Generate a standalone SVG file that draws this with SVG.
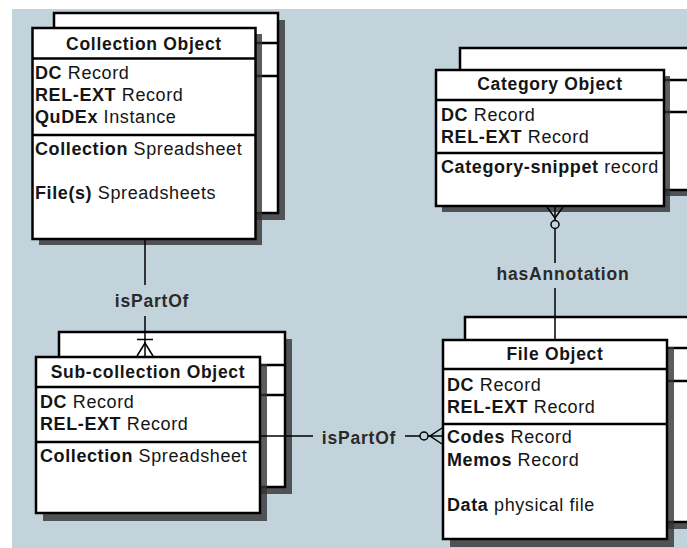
<svg xmlns="http://www.w3.org/2000/svg" width="687" height="548" viewBox="0 0 687 548">
<style>
.bg{fill:#c3d3dc}
.shd{fill:#333;fill-opacity:0.8}
.box{fill:#fff;stroke:#000;stroke-width:2.5}
.div{stroke:#000;stroke-width:2.5}
.ln{stroke:#000;stroke-width:1.5;fill:none}
text{font-family:"Liberation Sans",Arial,Helvetica,sans-serif;font-size:18px;fill:#151515;letter-spacing:0.6px}
.t{font-weight:bold;text-anchor:middle;font-size:17.5px;letter-spacing:0.7px}
.b{font-weight:bold}
.lbl{font-weight:bold;text-anchor:middle;fill:#2a2a2a;font-size:17.5px;letter-spacing:0.8px}
</style>
<rect x="0" y="0" width="687" height="548" fill="#fff"/>
<rect class="bg" x="12" y="9" width="675" height="539"/>

<g id="collection-object">
  <rect class="shd" x="61" y="20" width="224" height="200"/>
  <rect class="box" x="54" y="13" width="224" height="200"/>
  <line class="div" x1="54" y1="43" x2="278" y2="43"/>
  <line class="div" x1="54" y1="76" x2="278" y2="76"/>
  <rect class="shd" x="39" y="34" width="223" height="211"/>
  <rect class="box" x="32.5" y="28" width="223" height="211"/>
  <line class="div" x1="32.5" y1="58.5" x2="255.5" y2="58.5"/>
  <line class="div" x1="32.5" y1="135" x2="255.5" y2="135"/>
  <text class="t" x="144" y="50">Collection Object</text>
  <text x="35" y="79"><tspan class="b">DC</tspan> Record</text>
  <text x="35" y="101"><tspan class="b">REL-EXT</tspan> Record</text>
  <text x="35" y="123"><tspan class="b">QuDEx</tspan> Instance</text>
  <text x="35" y="155"><tspan class="b">Collection</tspan> Spreadsheet</text>
  <text x="35" y="199"><tspan class="b">File(s)</tspan> Spreadsheets</text>
</g>

<g id="subcollection-object">
  <rect class="shd" x="66" y="339" width="226" height="155"/>
  <rect class="box" x="59" y="332" width="226" height="155"/>
  <line class="div" x1="59" y1="365" x2="285" y2="365"/>
  <line class="div" x1="59" y1="395" x2="285" y2="395"/>
  <rect class="shd" x="43" y="364" width="224" height="157"/>
  <rect class="box" x="36" y="357" width="224" height="156"/>
  <line class="div" x1="36" y1="387" x2="260" y2="387"/>
  <line class="div" x1="36" y1="442" x2="260" y2="442"/>
  <text class="t" x="148" y="378">Sub-collection Object</text>
  <text x="40" y="408"><tspan class="b">DC</tspan> Record</text>
  <text x="40" y="430"><tspan class="b">REL-EXT</tspan> Record</text>
  <text x="40" y="462"><tspan class="b">Collection</tspan> Spreadsheet</text>
</g>

<g id="category-object">
  <rect class="shd" x="466" y="54" width="260" height="142"/>
  <rect class="box" x="460" y="48" width="260" height="142"/>
  <line class="div" x1="460" y1="80" x2="720" y2="80"/>
  <line class="div" x1="460" y1="112" x2="720" y2="112"/>
  <rect class="shd" x="442" y="76" width="228" height="136"/>
  <rect class="box" x="436" y="70" width="228" height="136"/>
  <line class="div" x1="436" y1="100" x2="664" y2="100"/>
  <line class="div" x1="436" y1="153" x2="664" y2="153"/>
  <text class="t" x="550" y="90">Category Object</text>
  <text x="441" y="121"><tspan class="b">DC</tspan> Record</text>
  <text x="441" y="143"><tspan class="b">REL-EXT</tspan> Record</text>
  <text x="441" y="173"><tspan class="b">Category-snippet</tspan> record</text>
</g>

<g id="file-object">
  <rect class="shd" x="472" y="324" width="260" height="205"/>
  <rect class="box" x="465" y="317" width="260" height="205"/>
  <line class="div" x1="465" y1="348" x2="725" y2="348"/>
  <line class="div" x1="465" y1="381" x2="725" y2="381"/>
  <rect class="shd" x="450" y="347" width="224" height="200"/>
  <rect class="box" x="443" y="340" width="224" height="199"/>
  <line class="div" x1="443" y1="369" x2="667" y2="369"/>
  <line class="div" x1="443" y1="424" x2="667" y2="424"/>
  <text class="t" x="555" y="360">File Object</text>
  <text x="447" y="391"><tspan class="b">DC</tspan> Record</text>
  <text x="447" y="413"><tspan class="b">REL-EXT</tspan> Record</text>
  <text x="447" y="443"><tspan class="b">Codes</tspan> Record</text>
  <text x="447" y="466"><tspan class="b">Memos</tspan> Record</text>
  <text x="447" y="511"><tspan class="b">Data</tspan> physical file</text>
</g>

<g id="connectors">
  <!-- Collection -> Sub-collection isPartOf -->
  <line class="ln" x1="145" y1="240" x2="145" y2="285"/>
  <text class="lbl" x="152" y="307">isPartOf</text>
  <line class="ln" x1="145" y1="316" x2="145" y2="356"/>
  <line class="ln" x1="137" y1="339.5" x2="153" y2="339.5"/>
  <path class="ln" d="M137,356 L145,343 L153,356"/>
  <!-- Category <- File hasAnnotation -->
  <path class="ln" d="M547,207 L555,218 L563,207"/>
  <line class="ln" x1="555" y1="207" x2="555" y2="220"/>
  <circle class="ln" cx="555" cy="224.5" r="4"/>
  <line class="ln" x1="555" y1="228.5" x2="555" y2="263"/>
  <text class="lbl" x="563" y="280">hasAnnotation</text>
  <line class="ln" x1="555" y1="288" x2="555" y2="339"/>
  <!-- Sub-collection -> File isPartOf -->
  <line class="ln" x1="261" y1="436" x2="313" y2="436"/>
  <text class="lbl" x="359" y="444">isPartOf</text>
  <line class="ln" x1="405" y1="436" x2="420" y2="436"/>
  <circle class="ln" cx="424" cy="436" r="4"/>
  <line class="ln" x1="428" y1="436" x2="442" y2="436"/>
  <path class="ln" d="M442,428 L430,436 L442,444"/>
</g>
</svg>
